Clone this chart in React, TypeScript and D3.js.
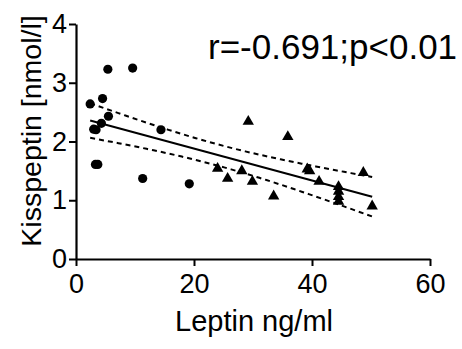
import React, { useEffect, useRef } from "react";
import * as d3 from "d3";

// group 1 (circles)
const circleX = [2.4, 5.4, 9.6, 4.5, 5.5, 4.3, 3.0, 3.4, 3.3, 3.7, 11.3, 14.4, 19.2];
const circleY = [2.64, 3.23, 3.25, 2.73, 2.43, 2.31, 2.21, 2.2, 1.61, 1.61, 1.37, 2.2, 1.28];
// group 2 (triangles)
const triX = [29.2, 35.9, 24.0, 25.7, 28.1, 29.9, 33.5, 39.2, 39.6, 41.2, 44.5, 44.5, 44.5, 44.5, 48.7, 50.2];
const triY = [2.34, 2.08, 1.54, 1.37, 1.5, 1.32, 1.07, 1.53, 1.5, 1.32, 1.23, 1.15, 1.06, 0.98, 1.47, 0.9];

const xTicks = [0, 20, 40, 60];
const yTicks = [0, 1, 2, 3, 4];
const statLabel = "r=-0.691;p<0.01";

const W = 462;
const H = 349;
const FONT = "'Liberation Sans', Arial, Helvetica, sans-serif";

const App = () => {
  const svgRef = useRef<SVGSVGElement>(null);

  useEffect(() => {
    const svg = d3.select(svgRef.current);
    svg.selectAll("*").remove();

    const x = d3.scaleLinear().domain([0, 60]).range([76, 430]);
    const y = d3.scaleLinear().domain([0, 4]).range([259, 24]);

    const pts = circleX.map((v, i) => [v, circleY[i]]).concat(triX.map((v, i) => [v, triY[i]]));

    // linear fit + 95% CI of the mean
    const n = pts.length;
    const mx = d3.mean(pts, d => d[0]) as number;
    const my = d3.mean(pts, d => d[1]) as number;
    const sxx = d3.sum(pts, d => (d[0] - mx) ** 2);
    const sxy = d3.sum(pts, d => (d[0] - mx) * (d[1] - my));
    const b = sxy / sxx;
    const a = my - b * mx;
    const sse = d3.sum(pts, d => (d[1] - (a + b * d[0])) ** 2);
    const s = Math.sqrt(sse / (n - 2));
    const t = 2.052;
    const x0 = d3.min(pts, d => d[0]) as number;
    const x1 = d3.max(pts, d => d[0]) as number;
    const xs = d3.range(0, 41).map(i => x0 + ((x1 - x0) * i) / 40);
    const band = (sign: number) =>
      xs.map(v => [v, a + b * v + sign * t * s * Math.sqrt(1 / n + (v - mx) ** 2 / sxx)]);

    const line = d3.line().x(d => x(d[0])).y(d => y(d[1]));

    const g = svg.append("g");

    g.append("path")
      .attr("d", line([[x0, a + b * x0], [x1, a + b * x1]]))
      .attr("stroke", "#000").attr("stroke-width", 2).attr("fill", "none");

    [1, -1].forEach(sg => {
      g.append("path")
        .attr("d", line(band(sg) as [number, number][]))
        .attr("stroke", "#000").attr("stroke-width", 2)
        .attr("stroke-dasharray", "5,4").attr("fill", "none");
    });

    g.selectAll("circle.pt")
      .data(circleX)
      .enter()
      .append("circle")
      .attr("cx", d => x(d))
      .attr("cy", (d, i) => y(circleY[i]))
      .attr("r", 4.6)
      .attr("fill", "#000");

    const tri = d3.symbol().type(d3.symbolTriangle).size(56);
    g.selectAll("path.tri")
      .data(triX)
      .enter()
      .append("path")
      .attr("class", "tri")
      .attr("d", tri)
      .attr("transform", (d, i) => `translate(${x(d)},${y(triY[i])})`)
      .attr("fill", "#000");

    // axes
    const xAxis = svg.append("g").attr("transform", "translate(0,259)")
      .call(d3.axisBottom(x).tickValues(xTicks).tickFormat(d3.format("d")).tickSize(7).tickPadding(8).tickSizeOuter(0));
    const yAxis = svg.append("g").attr("transform", "translate(76,0)")
      .call(d3.axisLeft(y).tickValues(yTicks).tickFormat(d3.format("d")).tickSize(7).tickPadding(2).tickSizeOuter(0));

    [xAxis, yAxis].forEach(ax => {
      ax.select(".domain").attr("stroke-width", 2.2);
      ax.selectAll(".tick line").attr("stroke-width", 2);
      ax.selectAll("text").attr("font-family", FONT).attr("font-size", 27).attr("fill", "#000");
    });

    svg.append("text")
      .attr("x", (76 + 430) / 2 + 1)
      .attr("y", 331)
      .attr("text-anchor", "middle")
      .attr("font-family", FONT)
      .attr("font-size", 29)
      .text("Leptin ng/ml");

    svg.append("text")
      .attr("transform", `translate(41, 131) rotate(-90)`)
      .attr("text-anchor", "middle")
      .attr("font-family", FONT)
      .attr("font-size", 28.5)
      .text("Kisspeptin [nmol/l]");

    svg.append("text")
      .attr("x", 208)
      .attr("y", 59)
      .attr("font-family", FONT)
      .attr("font-size", 35)
      .text(statLabel);
  }, []);

  return (
    <svg
      ref={svgRef}
      width={W}
      height={H}
      style={{ position: "absolute", left: 0, top: 0, background: "#fff" }}
    />
  );
};

export default App;
